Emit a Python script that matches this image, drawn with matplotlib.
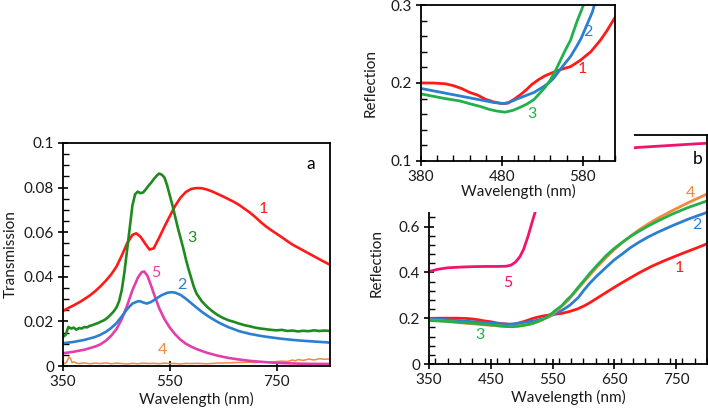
import matplotlib
matplotlib.use("Agg")
import matplotlib.pyplot as plt
from matplotlib.patches import Rectangle
from matplotlib.ticker import MultipleLocator

plt.rcParams['font.family'] = ['Lato', 'DejaVu Sans']

# ---------------- Panel a: Transmission ----------------
a1_x = [350, 360, 370, 380, 390, 400, 410, 420, 430, 440, 450, 460, 470, 480, 487, 495, 505, 512, 520,
        530, 540, 550, 560, 570, 580, 590, 600, 610, 620, 630, 640, 650, 660, 670, 680, 690, 700, 710,
        720, 730, 740, 750, 760, 770, 780, 790, 800, 810, 820, 830, 840, 850]
a1_y = [.0247, .0260, .0272, .0285, .0300, .0316, .0335, .0357, .0382, .0410, .0445, .0495, .0550, .0588,
        .0595, .0580, .0545, .0522, .0528, .0575, .0625, .0672, .0718, .0755, .0780, .0794, .0798, .0797,
        .0791, .0782, .0771, .0760, .0748, .0736, .0722, .0705, .0688, .0668, .0646, .0626, .0609, .0593,
        .0577, .0560, .0544, .0531, .0518, .0505, .0492, .0479, .0466, .0454]

a2_x = [350, 370, 390, 410, 420, 430, 440, 450, 460, 470, 480, 490, 495, 500, 507, 515, 525, 535, 545, 552,
        560, 570, 580, 590, 600, 610, 620, 630, 640, 650, 660, 670, 680, 700, 720, 740, 760, 780, 800,
        825, 850]
a2_y = [.0102, .0108, .0117, .0130, .0140, .0153, .0170, .0192, .0222, .0255, .0280, .0290, .0290, .0285,
        .0280, .0287, .0303, .0318, .0328, .0331, .0329, .0319, .0302, .0282, .0262, .0243, .0226, .0211,
        .0197, .0185, .0174, .0165, .0156, .0144, .0135, .0128, .0122, .0117, .0113, .0109, .0105]

a3_x = [350, 355, 360, 365, 370, 375, 380, 385, 390, 395, 400, 405, 410, 415, 420, 425, 430, 435, 440, 445,
        450, 455, 460, 465, 470, 475, 480, 485, 490, 495, 500, 505, 510, 515, 520, 525, 530, 535, 540,
        545, 550, 555, 560, 565, 570, 575, 580, 585, 590, 595, 600, 610, 620, 630, 640, 650, 660, 670,
        680, 690, 700, 710, 720, 730, 740, 750, 760, 770, 780, 790, 800, 810, 820, 830, 840, 850]
a3_y = [.0130, .0140, .0175, .0168, .0172, .0163, .0170, .0168, .0175, .0173, .0180, .0183, .0188, .0192,
        .0198, .0203, .0210, .0220, .0232, .0245, .0262, .0290, .0340, .0420, .0520, .0620, .0720, .0770,
        .0782, .0775, .0778, .0792, .0808, .0822, .0838, .0852, .0863, .0858, .0845, .0810, .0765, .0720,
        .0670, .0620, .0575, .0530, .0480, .0435, .0395, .0355, .0325, .0290, .0265, .0245, .0228, .0215,
        .0205, .0198, .0190, .0183, .0178, .0172, .0168, .0165, .0162, .0160, .0162, .0157, .0159, .0155,
        .0158, .0156, .0160, .0157, .0159, .0157]

a4_x = [350, 353, 357, 361, 364, 367, 371, 375, 380, 390, 400, 410, 420, 430, 440, 450, 460, 470, 480, 490,
        500, 510, 520, 530, 540, 550, 560, 570, 580, 590, 600, 620, 640, 660, 680, 700, 710, 720, 740,
        760, 770, 780, 785, 790, 800, 810, 820, 830, 840, 850]
a4_y = [.0016, .0010, .0018, .0040, .0034, .0015, .0019, .0013, .0011, .0014, .0010, .0013, .0011, .0014,
        .0010, .0013, .0011, .0009, .0012, .0010, .0013, .0011, .0012, .0010, .0013, .0011, .0011, .0009,
        .0012, .0011, .0012, .0010, .0013, .0014, .0016, .0017, .0015, .0019, .0018, .0022, .0020, .0027,
        .0023, .0029, .0025, .0031, .0027, .0033, .0030, .0032]

a5_x = [350, 370, 390, 410, 420, 430, 440, 450, 460, 470, 480, 490, 497, 502, 508, 515, 520, 530, 540, 550,
        560, 570, 580, 590, 600, 620, 640, 660, 680, 700, 730, 760, 800, 850]
a5_y = [.0057, .0064, .0073, .0087, .0097, .0113, .0135, .0165, .0210, .0270, .0340, .0395, .0420, .0424,
        .0405, .0360, .0325, .0260, .0210, .0172, .0142, .0118, .0100, .0087, .0076, .0059, .0046, .0036,
        .0029, .0023, .0017, .0013, .0010, .0009]

# ---------------- Panel b: Reflection ----------------
b1_x = [350, 365, 380, 395, 410, 420, 430, 440, 450, 460, 470, 480, 487, 495, 503, 510, 517, 525, 533,
        542, 552, 565, 577, 590, 602, 610, 620, 630, 640, 655, 670, 690, 710, 730, 750, 770, 790, 800]
b1_y = [.199, .200, .200, .200, .199, .1966, .193, .188, .1845, .179, .1757, .1736, .174, .179, .185, .191,
        .198, .204, .209, .213, .217, .221, .229, .240, .255, .267, .284, .301, .318, .343, .367, .398,
        .426, .450, .472, .493, .514, .525]

b2_x = [350, 365, 380, 395, 410, 425, 440, 455, 470, 482, 490, 500, 510, 520, 531, 538, 544, 552, 558,
        565, 572, 578, 585, 592, 600, 610, 620, 637, 650, 663, 676, 690, 705, 720, 744, 770, 800]
b2_y = [.197, .195, .193, .190, .187, .184, .181, .178, .175, .1736, .1755, .180, .184, .188, .195, .200,
        .206, .217, .225, .234, .246, .257, .274, .291, .320, .352, .380, .423, .455, .481, .508, .532,
        .555, .575, .604, .633, .662]

b3_x = [350, 365, 380, 395, 410, 428, 440, 453, 465, 474, 484, 494, 503, 511, 520, 527, 534, 540, 546,
        552, 558, 565, 573, 581, 590, 600, 610, 620, 637, 650, 663, 676, 690, 705, 720, 744, 770, 800]
b3_y = [.190, .188, .186, .183, .180, .177, .1735, .170, .166, .164, .1626, .165, .169, .173, .179, .187,
        .195, .204, .215, .228, .241, .255, .279, .300, .330, .362, .395, .425, .474, .505, .532, .557,
        .580, .603, .624, .655, .684, .712]

b4_x = [350, 380, 410, 440, 470, 486, 500, 515, 530, 545, 560, 575, 590, 605, 620, 637, 650, 663, 676,
        690, 705, 720, 744, 770, 800]
b4_y = [.193, .186, .178, .171, .165, .164, .167, .175, .188, .208, .240, .278, .325, .372, .418, .466,
        .500, .530, .558, .586, .612, .636, .670, .705, .742]

b5_x = [350, 365, 380, 400, 420, 440, 460, 475, 483, 490, 497, 503, 510, 517, 522, 530, 545, 560, 580,
        600, 630, 660, 690, 720, 750, 780, 800]
b5_y = [.404, .414, .420, .423, .425, .426, .426, .427, .432, .445, .468, .500, .555, .620, .665, .730,
        .810, .860, .895, .915, .930, .939, .946, .951, .956, .961, .964]

RED = '#ff1a1a'
BLUE = '#2a7fd0'
GREEN_A = '#1f8a1f'
GREEN_B = '#22b04a'
ORANGE = '#f4883c'
MAG_A = '#e33fab'
PINK_B = '#f0146e'
TXT = '#1a1a1a'

W, H = 708, 413
fig = plt.figure(figsize=(W / 100, H / 100), dpi=100)


def fax(left, top, right, bottom):
    return [left / W, 1 - bottom / H, (right - left) / W, (bottom - top) / H]


def style(ax):
    for s in ax.spines.values():
        s.set_linewidth(1.3)
        s.set_color('black')
    ax.tick_params(which='major', direction='inout', length=7, width=1.2, labelsize=11,
                   colors='black', labelcolor=TXT, pad=3)
    ax.tick_params(which='minor', direction='in', length=4, width=1.0, colors='black')


# Panel a
ax_a = fig.add_axes(fax(63, 143, 330, 366))
lw = 1.9
ax_a.plot(a4_x, a4_y, color=ORANGE, lw=1.1)
ax_a.plot(a5_x, a5_y, color=MAG_A, lw=lw)
ax_a.plot(a2_x, a2_y, color=BLUE, lw=lw)
ax_a.plot(a1_x, a1_y, color=RED, lw=lw)
ax_a.plot(a3_x, a3_y, color=GREEN_A, lw=lw)
ax_a.set_xlim(350, 850)
ax_a.set_ylim(0, 0.1)
ax_a.set_xticks([350, 550, 750])
ax_a.set_yticks([0, 0.02, 0.04, 0.06, 0.08, 0.1])
ax_a.set_yticklabels(['0', '0.02', '0.04', '0.06', '0.08', '0.1'])
ax_a.yaxis.set_minor_locator(MultipleLocator(0.005))
style(ax_a)
ax_a.set_xlabel('Wavelength (nm)', fontsize=11, color=TXT, labelpad=2)
ax_a.set_ylabel('Transmission', fontsize=11, color=TXT, labelpad=4)
fs = 11.5
ax_a.text(0.91, 0.94, 'a', transform=ax_a.transAxes, fontsize=12.5, color='black', ha='left', va='top')
ax_a.text(725, 0.0705, '1', color=RED, fontsize=fs, ha='center', va='center')
ax_a.text(591, 0.0575, '3', color=GREEN_A, fontsize=fs, ha='center', va='center')
ax_a.text(524, 0.0415, '5', color=MAG_A, fontsize=fs, ha='center', va='center')
ax_a.text(572, 0.0365, '2', color=BLUE, fontsize=fs, ha='center', va='center')
ax_a.text(536, 0.0072, '4', color=ORANGE, fontsize=fs, ha='center', va='center')

# Panel b main
ax_b = fig.add_axes(fax(429, 135, 707, 364))
lwb = 2.0
ax_b.plot(b5_x, b5_y, color=PINK_B, lw=lwb)
ax_b.plot(b1_x, b1_y, color=RED, lw=lwb)
ax_b.plot(b2_x, b2_y, color=BLUE, lw=lwb)
ax_b.plot(b4_x, b4_y, color=ORANGE, lw=lwb)
ax_b.plot(b3_x, b3_y, color=GREEN_B, lw=lwb)
ax_b.set_xlim(350, 800)
ax_b.set_ylim(0, 1.0)
ax_b.set_xticks([350, 450, 550, 650, 750])
ax_b.set_yticks([0, 0.2, 0.4, 0.6])
ax_b.set_yticklabels(['0', '0.2', '0.4', '0.6'])
ax_b.xaxis.set_minor_locator(MultipleLocator(20))
ax_b.yaxis.set_minor_locator(MultipleLocator(0.04))
style(ax_b)
ax_b.set_xlabel('Wavelength (nm)', fontsize=11, color=TXT, labelpad=2)
ax_b.set_ylabel('Reflection', fontsize=11, color=TXT, labelpad=11, y=0.44)
ax_b.text(0.965, 0.93, 'b', transform=ax_b.transAxes, fontsize=12.5, color='black', ha='center', va='top')
ax_b.text(773, 0.745, '4', color=ORANGE, fontsize=fs, ha='center', va='center')
ax_b.text(784, 0.605, '2', color=BLUE, fontsize=fs, ha='center', va='center')
ax_b.text(755, 0.42, '1', color=RED, fontsize=fs, ha='center', va='center')
ax_b.text(478, 0.355, '5', color=PINK_B, fontsize=fs, ha='center', va='center')
ax_b.text(432, 0.125, '3', color=GREEN_B, fontsize=fs, ha='center', va='center')

# white cover behind the inset
cover = Rectangle((340 / W, 1 - 212 / H), (634 - 340) / W, 212 / H, transform=fig.transFigure,
                  facecolor='white', edgecolor='none', zorder=1)
fig.patches.append(cover)

# Inset
ax_i = fig.add_axes(fax(421, 5, 615, 161))
ax_i.set_zorder(2)
ax_i.plot(b1_x, b1_y, color=RED, lw=lwb)
ax_i.plot(b2_x, b2_y, color=BLUE, lw=lwb)
ax_i.plot(b3_x, b3_y, color=GREEN_B, lw=lwb)
ax_i.set_xlim(380, 620)
ax_i.set_ylim(0.1, 0.3)
ax_i.set_xticks([380, 480, 580])
ax_i.set_yticks([0.1, 0.2, 0.3])
ax_i.set_yticklabels(['0.1', '0.2', '0.3'])
ax_i.xaxis.set_minor_locator(MultipleLocator(20))
ax_i.yaxis.set_minor_locator(MultipleLocator(0.02))
style(ax_i)
ax_i.set_xlabel('Wavelength (nm)', fontsize=11, color=TXT, labelpad=0)
ax_i.set_ylabel('Reflection', fontsize=11, color=TXT, labelpad=9)
ax_i.text(587, 0.265, '2', color=BLUE, fontsize=fs, ha='center', va='center')
ax_i.text(580, 0.218, '1', color=RED, fontsize=fs, ha='center', va='center')
ax_i.text(517, 0.16, '3', color=GREEN_B, fontsize=fs, ha='center', va='center')

fig.savefig('out.png', dpi=100)
